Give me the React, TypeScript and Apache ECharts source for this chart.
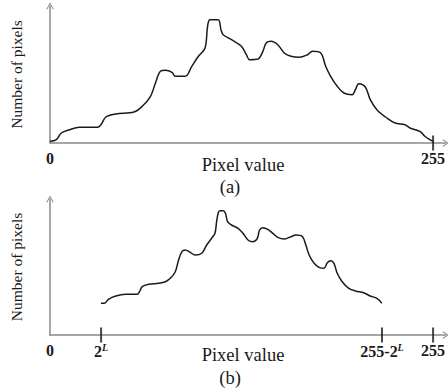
import React, { useEffect, useRef } from "react";
import * as echarts from "echarts";

// Histogram (a): pixel value vs. number of pixels (relative units)
const pixelValuesA = [0, 4.2, 7.5, 13.0, 19.6, 31.7, 33.9, 37.2, 43.8, 55.9, 61.4, 66.9, 70.2, 73.5, 76.8, 81.2, 83.4, 90.0, 94.4, 98.8, 103.2, 104.9, 106.5, 112.0, 113.8, 115.3, 120.8, 127.4, 130.7, 132.9, 138.4, 141.7, 143.9, 147.2, 151.6, 156.0, 160.4, 165.9, 171.4, 174.7, 180.2, 183.5, 186.8, 191.2, 195.6, 201.1, 203.3, 205.5, 209.9, 213.2, 217.6, 224.2, 229.7, 236.3, 239.6, 246.2, 249.5, 252.8, 255];
const countsA = [1.7, 3.3, 10, 13.3, 15.7, 15.7, 18.3, 26, 29, 31, 36.7, 46.7, 60, 71.7, 72.7, 70.7, 66.7, 66.7, 76.7, 86.7, 95, 116.7, 123.3, 123.3, 113.3, 108.3, 103.3, 96.7, 88.3, 83.3, 84, 91.7, 100, 101.7, 98.3, 90, 86.7, 85.7, 88.3, 91.7, 90, 76.7, 66.7, 56.7, 50, 48.3, 53.3, 59.3, 56, 43.3, 33.3, 25, 20, 18.3, 15, 11.7, 6.7, 3.3, 1.7];

// Histogram (b): compressed into [2^L, 255-2^L]
const pixelValuesB = [33.9, 36.1, 38.9, 43.8, 50.4, 58.1, 59.6, 61.4, 65.8, 72.4, 76.8, 80.1, 83.4, 85.6, 87.8, 90.0, 93.3, 96.6, 101.0, 104.3, 107.6, 109.8, 110.9, 112.0, 113.1, 115.3, 116.8, 118.2, 120.8, 125.2, 128.5, 131.8, 135.1, 138.0, 139.5, 141.7, 145.0, 148.3, 151.6, 156.0, 160.4, 163.7, 168.1, 170.3, 172.5, 175.8, 179.1, 182.4, 184.6, 186.8, 189.0, 191.2, 194.5, 198.9, 203.3, 208.8, 213.2, 217.6, 220.9];
const countsB = [31.7, 31.7, 35.7, 39, 40.7, 40.7, 43.3, 48.3, 50.7, 51.7, 53.3, 56.7, 63.3, 75, 83.3, 85, 82.7, 80, 81.7, 90, 96.7, 101.7, 113.3, 122.3, 124.3, 124.3, 121.7, 113.3, 110, 106.7, 101.7, 95, 93.3, 96.7, 105, 107.3, 105.7, 101.7, 97.7, 96, 98.3, 100, 98.3, 90, 80, 71.7, 67.7, 66.7, 72.3, 74.3, 71.7, 61.7, 53.3, 46.7, 44, 42.3, 39, 36.7, 31.7];

// Tick marks and labels
const tickValuesA = [255];
const labelValuesA = [0, 255];
const labelTextsA = ["0", "255"];
const tickValuesB = [34, 221, 255];
const labelValuesB = [0, 34, 221, 255];
const labelTextsB = ["0", "{n|2}{s|L}", "{n|255-2}{s|L}", "255"];

const xAxisLabel = "Pixel value";
const yAxisLabel = "Number of pixels";
const captions = ["(a)", "(b)"];

const FONT = "Liberation Serif";
const INK = "#1a1a1a";
const AXIS = "#8a8a8a";
const chevron = "path://M0,9 L5,0 L10,9 L8.8,9.6 L5,2.4 L1.2,9.6 Z";

export default function App() {
  const ref = useRef<HTMLDivElement>(null);
  useEffect(() => {
    if (!ref.current) return;
    const chart = echarts.init(ref.current, null, { renderer: "svg" });
    const mkX = (idx: number, values: number[], texts: string[]) => ({
      type: "value",
      gridIndex: idx,
      min: 0,
      max: 263.6,
      splitLine: { show: false },
      axisTick: { show: false },
      axisLine: {
        show: true,
        symbol: ["none", chevron],
        symbolSize: [8, 7],
        lineStyle: { color: AXIS, width: 1.5 },
      },
      axisLabel: {
        customValues: values,
        margin: 7,
        fontFamily: FONT,
        fontSize: 16,
        fontWeight: "bold",
        color: INK,
        formatter: (v: number) => texts[values.indexOf(v)] ?? "",
        rich: {
          n: { fontFamily: FONT, fontSize: 16, color: INK },
          s: { fontFamily: FONT, fontSize: 10, fontStyle: "italic", color: INK, verticalAlign: "top", padding: [0, 0, 8, 0] },
        },
      },
    });
    const mkY = (idx: number, max: number) => ({
      type: "value",
      gridIndex: idx,
      min: 0,
      max,
      splitLine: { show: false },
      axisTick: { show: false },
      axisLabel: { show: false },
      axisLine: {
        show: true,
        symbol: ["none", chevron],
        symbolSize: [8, 7],
        lineStyle: { color: AXIS, width: 1.5 },
      },
      name: yAxisLabel,
      nameLocation: "middle",
      nameGap: 26,
      nameRotate: 90,
      nameTextStyle: { fontFamily: FONT, fontSize: 15.5, color: INK },
    });
    const lineSeries = (idx: number, xs: number[], ys: number[]) => ({
      type: "line",
      xAxisIndex: idx,
      yAxisIndex: idx,
      data: xs.map((x, i) => [x, ys[i]]),
      smooth: 0.35,
      showSymbol: false,
      lineStyle: { color: INK, width: 1.5 },
    });
    const tickSeries = (idx: number, xs: number[]) => ({
      type: "scatter",
      xAxisIndex: idx,
      yAxisIndex: idx,
      clip: false,
      data: xs.map((x) => [x, 0]),
      symbol: "rect",
      symbolSize: [2, 15],
      itemStyle: { color: INK },
    });
    const txt = (text: string, x: number, y: number) => ({
      type: "text",
      x,
      y,
      style: { text, fontFamily: FONT, fontSize: 18.5, fill: INK, align: "center", verticalAlign: "middle" },
    });
    chart.setOption({
      animation: false,
      grid: [
        { left: 47, top: 6, width: 399, height: 137 },
        { left: 47, top: 199, width: 399, height: 136 },
      ],
      xAxis: [mkX(0, labelValuesA, labelTextsA), mkX(1, labelValuesB, labelTextsB)],
      yAxis: [mkY(0, 137), mkY(1, 136)],
      series: [
        lineSeries(0, pixelValuesA, countsA),
        tickSeries(0, tickValuesA),
        lineSeries(1, pixelValuesB, countsB),
        tickSeries(1, tickValuesB),
      ],
      graphic: [
        txt(xAxisLabel, 243, 165),
        txt(captions[0], 230, 187),
        txt(xAxisLabel, 243, 355),
        txt(captions[1], 230, 378),
      ],
    });
    return () => chart.dispose();
  }, []);
  return <div ref={ref} style={{ position: "absolute", left: 0, top: 0, width: 448, height: 389 }} />;
}
